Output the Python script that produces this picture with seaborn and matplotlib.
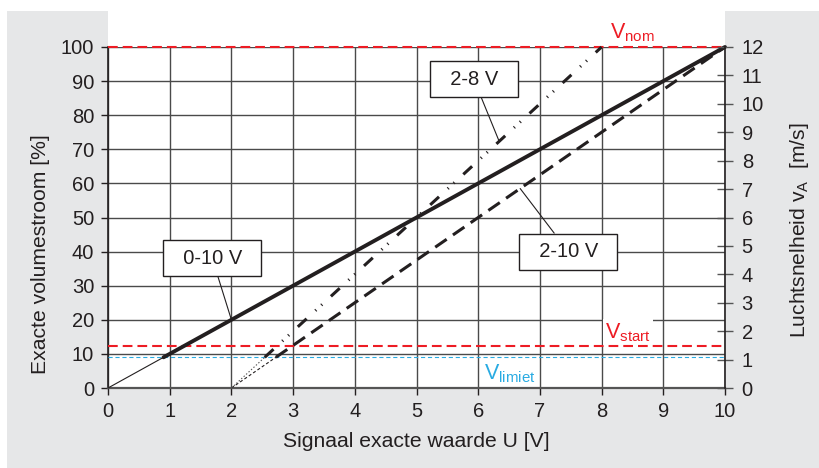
import numpy as np
import pandas as pd
import matplotlib
matplotlib.use("Agg")
import matplotlib.pyplot as plt
from matplotlib.patches import Rectangle
import seaborn as sns

# ---------------- data ----------------
signal_ticks = list(range(0, 11))            # U [V]
flow_ticks = list(range(0, 101, 10))         # volumestroom [%]
speed_ticks = list(range(0, 13))             # v_A [m/s]

# 0-10 V characteristic (thin below V_limiet, thick above)
u_0_10_low = [0.0, 0.9]
q_0_10_low = [0.0, 9.0]
u_0_10 = [0.9, 10.0]
q_0_10 = [9.0, 100.0]

# 2-10 V characteristic
u_2_10_low = [2.0, 2.72]
q_2_10_low = [0.0, 9.0]
u_2_10 = [2.72, 10.0]
q_2_10 = [9.0, 100.0]

# 2-8 V characteristic
u_2_8_low = [2.0, 2.54]
q_2_8_low = [0.0, 9.0]
u_2_8 = [2.54, 8.0]
q_2_8 = [9.0, 100.0]

v_nom = 100.0
v_start = 12.2
v_limiet = 9.0

label_names = ["0-10 V", "2-8 V", "2-10 V"]
label_anchor_u = [2.0, 6.34, 6.68]

# ---------------- style ----------------
sns.set_theme(style="white")
plt.rcParams["font.family"] = ["Liberation Sans", "DejaVu Sans"]
plt.rcParams["mathtext.fontset"] = "custom"
plt.rcParams["mathtext.rm"] = "Liberation Sans"
plt.rcParams["mathtext.it"] = "Liberation Sans:italic"
plt.rcParams["lines.scale_dashes"] = False

INK = "#231f20"
GRID = "#4a4a4a"
RED = "#ed1c24"
BLUE = "#29abe2"
GRAY_BG = "#e6e7e8"
FS = 14.5
FS_LAB = 15.2

W, H = 819, 468
fig = plt.figure(figsize=(W / 100, H / 100), dpi=100)
fig.patch.set_facecolor("white")

L, R, T, B = 108 / W, 725 / W, 1 - 47 / H, 1 - 388 / H
fig.add_artist(Rectangle((7 / W, 0), 1 - 7 / W, 1 - 11 / H, transform=fig.transFigure,
                         fc=GRAY_BG, ec="none", zorder=-3))
fig.add_artist(Rectangle((L, T), R - L, 1 - T, transform=fig.transFigure,
                         fc="white", ec="none", zorder=-2))

ax = fig.add_axes([L, B, R - L, T - B])
ax.set_facecolor("white")
ax.set_xlim(0, 10)
ax.set_ylim(0, 100)
ax.set_xticks(signal_ticks)
ax.set_yticks(flow_ticks)
ax.grid(True, color=GRID, lw=1.0, zorder=0)
ax.set_axisbelow(True)
for s in ["top", "right"]:
    ax.spines[s].set_visible(False)
ax.spines["left"].set_color(INK)
ax.spines["left"].set_linewidth(1.2)
ax.spines["bottom"].set_color("#555555")
ax.spines["bottom"].set_linewidth(1.6)
ax.tick_params(axis="both", labelsize=FS, colors=INK, length=5, width=1.0,
               direction="out", pad=5, bottom=True, left=True)

# reference lines
ax.axhline(v_nom, color=RED, lw=1.5, linestyle=(0, (7, 3.6)), zorder=5, clip_on=False)
ax.axhline(v_start, color=RED, lw=1.5, linestyle=(0, (7, 3.6)), zorder=5)
ax.axhline(v_limiet, color=BLUE, lw=0.8, linestyle=(0, (3, 2)), zorder=5)

# characteristics
def seg(u, q, **kw):
    df = pd.DataFrame({"u": u, "q": q})
    sns.lineplot(data=df, x="u", y="q", ax=ax, errorbar=None, sort=False,
                 clip_on=False, **kw)

seg(u_0_10_low, q_0_10_low, color=INK, lw=0.8, zorder=6)
seg(u_0_10, q_0_10, color=INK, lw=2.8, zorder=6)
seg(u_2_10_low, q_2_10_low, color=INK, lw=0.8, linestyle=(0, (2.2, 1.6)), zorder=6)
seg(u_2_10, q_2_10, color=INK, lw=2.2, linestyle=(0, (10, 5.5)), zorder=6)
seg(u_2_8_low, q_2_8_low, color="#555555", lw=0.8, linestyle=(0, (1, 1.4)), zorder=6)
seg(u_2_8, q_2_8, color=INK, lw=2.2, linestyle=(0, (8.6, 8.6, 0.8, 5, 0.8, 8.6)), zorder=6)

ax.set_xlabel("Signaal exacte waarde U [V]", fontsize=FS_LAB, color=INK, labelpad=8)
ax.set_ylabel("Exacte volumestroom [%]", fontsize=FS_LAB, color=INK)
ax.yaxis.set_label_coords((50 - 108) / 617, (388 - 254) / 341)

# boxed labels with leader lines
curves = {"0-10 V": (u_0_10, q_0_10), "2-8 V": (u_2_8, q_2_8), "2-10 V": (u_2_10, q_2_10)}
box_pos = {"0-10 V": (1.69, 38.0), "2-8 V": (5.93, 90.5), "2-10 V": (7.46, 40.0)}
for name, au in zip(label_names, label_anchor_u):
    cu, cq = curves[name]
    aq = float(np.interp(au, cu, cq))
    ax.annotate("  " + name + "  ", xy=(au, aq), xytext=box_pos[name], textcoords="data",
                ha="center", va="center", fontsize=FS, color=INK, zorder=8,
                bbox=dict(boxstyle="square,pad=0.42", fc="white", ec=INK, lw=1.0),
                arrowprops=dict(arrowstyle="-", color=INK, lw=0.8, shrinkA=0, shrinkB=0))

# V labels
ax.text(8.13, 101.0, r"V$_{\mathrm{nom}}$", color=RED, fontsize=FS + 1, ha="left",
        va="bottom", clip_on=False, zorder=7)
ax.text(8.05, 13.0, r"V$_{\mathrm{start}}$", color=RED, fontsize=FS + 1, ha="left",
        va="bottom", zorder=4,
        bbox=dict(boxstyle="square,pad=0.1", fc="white", ec="none"))
ax.text(6.1, 7.6, r"V$_{\mathrm{limiet}}$", color=BLUE, fontsize=FS + 1, ha="left",
        va="top", zorder=7)

# right axis
ax2 = ax.twinx()
ax2.set_ylim(0, 12)
ax2.set_yticks(speed_ticks)
for s in ["top", "left", "bottom"]:
    ax2.spines[s].set_visible(False)
ax2.spines["right"].set_color(INK)
ax2.spines["right"].set_linewidth(1.2)
ax2.tick_params(axis="y", labelsize=FS, colors="#555555", labelcolor=INK,
                direction="inout", length=12, width=1.0, pad=6, right=True)
ax2.set_ylabel(r"Luchtsnelheid v$_{\mathrm{A}}$  [m/s]", fontsize=FS_LAB, color=INK)
ax2.yaxis.set_label_coords((788 - 108) / 617, (388 - 230) / 341)
ax2.grid(False)

fig.savefig("out.png", dpi=100)
